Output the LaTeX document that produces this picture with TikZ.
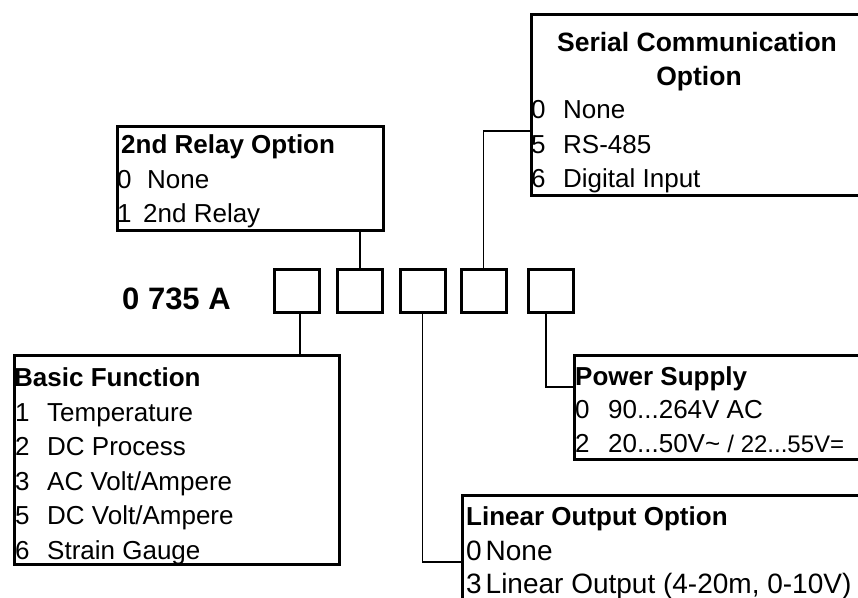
\documentclass[tikz,border=0pt]{standalone}
\usepackage{fontspec}
\setmainfont{Liberation Sans}
\newcommand{\optitem}[3]{\makebox[#1][l]{#2}#3}
\tikzset{
  optbox/.style={draw=black, line width=3pt, inner sep=0pt, anchor=north west},
  codesq/.style={draw=black, line width=3pt, inner sep=0pt, minimum width=45pt, minimum height=43pt},
  link/.style={draw=black, line width=1.3pt},
  head/.style={inner sep=0pt, anchor=base west, font=\bfseries\fontsize{26}{26}\selectfont},
  entry/.style={inner sep=0pt, anchor=base west, font=\fontsize{26}{26}\selectfont}
}
\begin{document}
\begin{tikzpicture}[x=1pt,y=-1pt]
\useasboundingbox (0,0) rectangle (858,597);
\clip (0,0) rectangle (858,597);
\fill[white] (0,0) rectangle (858,597);

% option boxes
\node[optbox, minimum width=341pt, minimum height=181pt] (serial) at (529.5,12.5) {};
\node[optbox, minimum width=266pt, minimum height=104pt] (relay) at (116,124.5) {};
\node[optbox, minimum width=325pt, minimum height=209pt] (basic) at (12.5,353.5) {};
\node[optbox, minimum width=298pt, minimum height=104pt] (power) at (573,353.5) {};
\node[optbox, minimum width=410pt, minimum height=104pt] (linear) at (461,493.5) {};

% code squares
\node[codesq] (s1) at (297,291) {};
\node[codesq] (s2) at (360,291) {};
\node[codesq] (s3) at (422.5,291) {};
\node[codesq] (s4) at (483.5,291) {};
\node[codesq] (s5) at (551,291) {};

\node[inner sep=0pt, anchor=base west, font=\bfseries\fontsize{31}{31}\selectfont] (code) at (122,309) {0 735 A};

% serial communication
\node[inner sep=0pt, anchor=base, font=\bfseries\fontsize{26.5}{26.5}\selectfont] (serh1) at (697,51.5) {Serial Communication};
\node[inner sep=0pt, anchor=base, font=\bfseries\fontsize{26.5}{26.5}\selectfont] (serh2) at (699,85) {Option};
\node[entry] (ser0) at (531,118.5) {\optitem{32pt}{0}{None}};
\node[entry] (ser5) at (531,153) {\optitem{32pt}{5}{RS-485}};
\node[entry] (ser6) at (531,187) {\optitem{32pt}{6}{Digital Input}};

% 2nd relay
\node[head] (relh) at (121,153) {2nd Relay Option};
\node[entry] (rel0) at (117,188) {\optitem{30pt}{0}{None}};
\node[entry] (rel1) at (117,222) {\optitem{26pt}{1}{2nd Relay}};

% basic function
\node[head] (bash) at (14,386.5) {Basic Function};
\node[entry] (bas1) at (15,421) {\optitem{32pt}{1}{Temperature}};
\node[entry] (bas2) at (15,455.5) {\optitem{32pt}{2}{DC Process}};
\node[entry] (bas3) at (15,490) {\optitem{32pt}{3}{AC Volt/Ampere}};
\node[entry] (bas5) at (15,524.5) {\optitem{32pt}{5}{DC Volt/Ampere}};
\node[entry] (bas6) at (15,559) {\optitem{32pt}{6}{Strain Gauge}};

% power supply
\node[head] (powh) at (575,385) {Power Supply};
\node[entry] (pow0) at (575,418.5) {\optitem{33pt}{0}{90...264V AC}};
\node[entry] (pow2) at (575,452) {\optitem{33pt}{2}{20...50V\textasciitilde{} {\fontsize{24}{24}\selectfont / 22...55V=}}};

% linear output
\node[head] (linh) at (466,525) {Linear Output Option};
\node[entry, font=\fontsize{28}{28}\selectfont] (lin0) at (466,560) {\optitem{19.5pt}{0}{None}};
\node[entry, font=\fontsize{28}{28}\selectfont] (lin3) at (466,593.5) {\optitem{19.5pt}{3}{Linear Output (4-20m, 0-10V)}};

% connectors
\path[link] (serial.west |- 0,131) -| (s4.north);
\path[link] (relay.south -| s2.north) -- (s2.north);
\path[link] ([xshift=3pt]s1.south) -- ([xshift=3pt]s1.south |- basic.north);
\path[link] (s3.south) |- (linear.west |- 0,562);
\path[link] ([xshift=-5pt]s5.south) |- (power.west |- 0,387);
\end{tikzpicture}
\end{document}
